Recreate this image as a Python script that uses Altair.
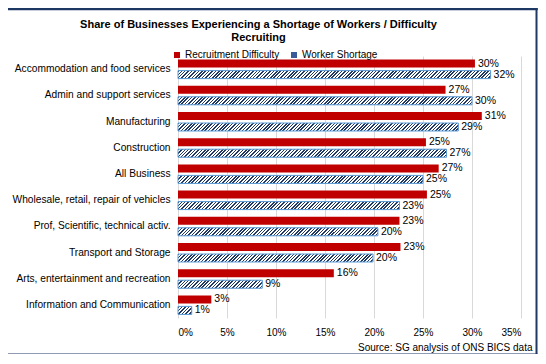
import altair as alt
import pandas as pd

categories = [
    "Accommodation and food services",
    "Admin and support services",
    "Manufacturing",
    "Construction",
    "All Business",
    "Wholesale, retail, repair of vehicles",
    "Prof, Scientific, technical activ.",
    "Transport and Storage",
    "Arts, entertainment and recreation",
    "Information and Communication",
]
series = ["Recruitment Difficulty", "Worker Shortage"]
recruitment = [30.3, 27.3, 31.0, 25.3, 26.6, 25.4, 22.6, 22.7, 15.9, 3.4]
shortage = [31.9, 30.0, 28.6, 27.4, 25.0, 22.6, 20.4, 19.9, 8.6, 1.4]
ticks = [0, 0.05, 0.10, 0.15, 0.20, 0.25, 0.30, 0.35]

FONT = "Liberation Sans"
W, H = 343, 262
BAR_H = 8.0
PX_PER_UNIT = W / 0.35
NAVY = "#1f3864"

rows = []
for c, a, b in zip(categories, recruitment, shortage):
    rows.append({"cat": c, "series": series[0], "val": a / 100})
    rows.append({"cat": c, "series": series[1], "val": b / 100})
df = pd.DataFrame(rows)

base = alt.Chart(df)

y_enc = alt.Y("cat:N", sort=categories,
              scale=alt.Scale(paddingInner=0.275, paddingOuter=0.1375),
              axis=alt.Axis(title=None, ticks=False, domain=False, labelPadding=8,
                            labelFontSize=10.2, labelFont=FONT, labelColor="#000000",
                            labelLimit=300))
x_enc = alt.X("val:Q",
              scale=alt.Scale(domain=[0, 0.35], nice=False),
              axis=alt.Axis(values=ticks, format=".0%", grid=True, gridColor="#d9d9d9",
                            domain=False, ticks=False, labelPadding=9, labelFontSize=10,
                            labelFont=FONT, labelColor="#000000",
                            title="Source: SG analysis of ONS BICS data",
                            titleFont=FONT, titleFontSize=10, titleFontWeight="normal",
                            titleColor="#000000", titleAnchor="end", titleAlign="right",
                            titleX=354, titleY=32, titleBaseline="alphabetic"))
yoff_enc = alt.YOffset("series:N", sort=series,
                       scale=alt.Scale(domain=series, paddingInner=0.273, paddingOuter=0))

bars = base.mark_bar().encode(
    y=y_enc, x=x_enc, yOffset=yoff_enc,
    color=alt.Color("series:N",
                    scale=alt.Scale(domain=series, range=["#c00000", "#3a5a9a"]),
                    legend=alt.Legend(title=None, orient="none", direction="horizontal",
                                      legendX=-6, legendY=-6, symbolType="square",
                                      symbolSize=36, labelFont=FONT, labelFontSize=10,
                                      labelColor="#000000", columnPadding=9,
                                      labelOffset=3, padding=0)),
)


def hatch(v):
    w = v * PX_PER_UNIT
    h = BAR_H
    s = (w + h) / (w * w + h * h)
    period = 3.4
    n = max(1, round((w + h) / period))
    stops = []
    f = 0.45
    for k in range(n):
        stops.append({"offset": k / n, "color": NAVY})
        stops.append({"offset": (k + f) / n, "color": NAVY})
        stops.append({"offset": (k + f) / n, "color": "#ffffff"})
        stops.append({"offset": (k + 1) / n, "color": "#ffffff"})
    return {"gradient": "linear", "x1": 0, "y1": 0, "x2": w * s, "y2": h * s, "stops": stops}


hatch_layers = []
for c, b in zip(categories, shortage):
    layer = base.transform_filter(
        (alt.datum.series == series[1]) & (alt.datum.cat == c)
    ).mark_bar(fill=hatch(b / 100), stroke="#5b9bd5", strokeWidth=1).encode(
        y=y_enc, x=x_enc, yOffset=yoff_enc
    )
    hatch_layers.append(layer)

labels = base.mark_text(align="left", baseline="middle", dx=3, fontSize=10.5,
                        font=FONT, color="#000000").encode(
    y=y_enc, x=x_enc, yOffset=yoff_enc,
    text=alt.Text("val:Q", format=".0%"),
)

frame_data = alt.Data(values=[{}])
frame_top = alt.Chart(frame_data).mark_rect(fill=NAVY, stroke=NAVY, strokeWidth=0.5).encode(
    x=alt.value(-172), x2=alt.value(359.5), y=alt.value(-48), y2=alt.value(-46))
frame_bottom = alt.Chart(frame_data).mark_rule(stroke=NAVY, strokeWidth=2).encode(
    x=alt.value(-172), x2=alt.value(359.5), y=alt.value(298.5))
frame_left = alt.Chart(frame_data).mark_rule(stroke=NAVY, strokeWidth=2).encode(
    x=alt.value(-171), y=alt.value(-48), y2=alt.value(299.5))
frame_right = alt.Chart(frame_data).mark_rule(stroke=NAVY, strokeWidth=2).encode(
    x=alt.value(358.5), y=alt.value(-48), y2=alt.value(299.5))

chart = alt.layer(bars, *hatch_layers, labels,
                  frame_top, frame_bottom, frame_left, frame_right).properties(
    width=W, height=H,
    autosize=alt.AutoSizeParams(type="none"),
    padding={"left": 170, "top": 48, "right": 17, "bottom": 36},
    title=alt.TitleParams(
        text=["Share of Businesses Experiencing a Shortage of Workers / Difficulty",
              "Recruiting"],
        font=FONT, fontSize=11, fontWeight="bold", color="#000000",
        anchor="middle", dx=-91, offset=-36, lineHeight=13),
).configure_view(strokeWidth=0)

chart.save("out.html", embed_options={"renderer": "svg", "actions": False})
